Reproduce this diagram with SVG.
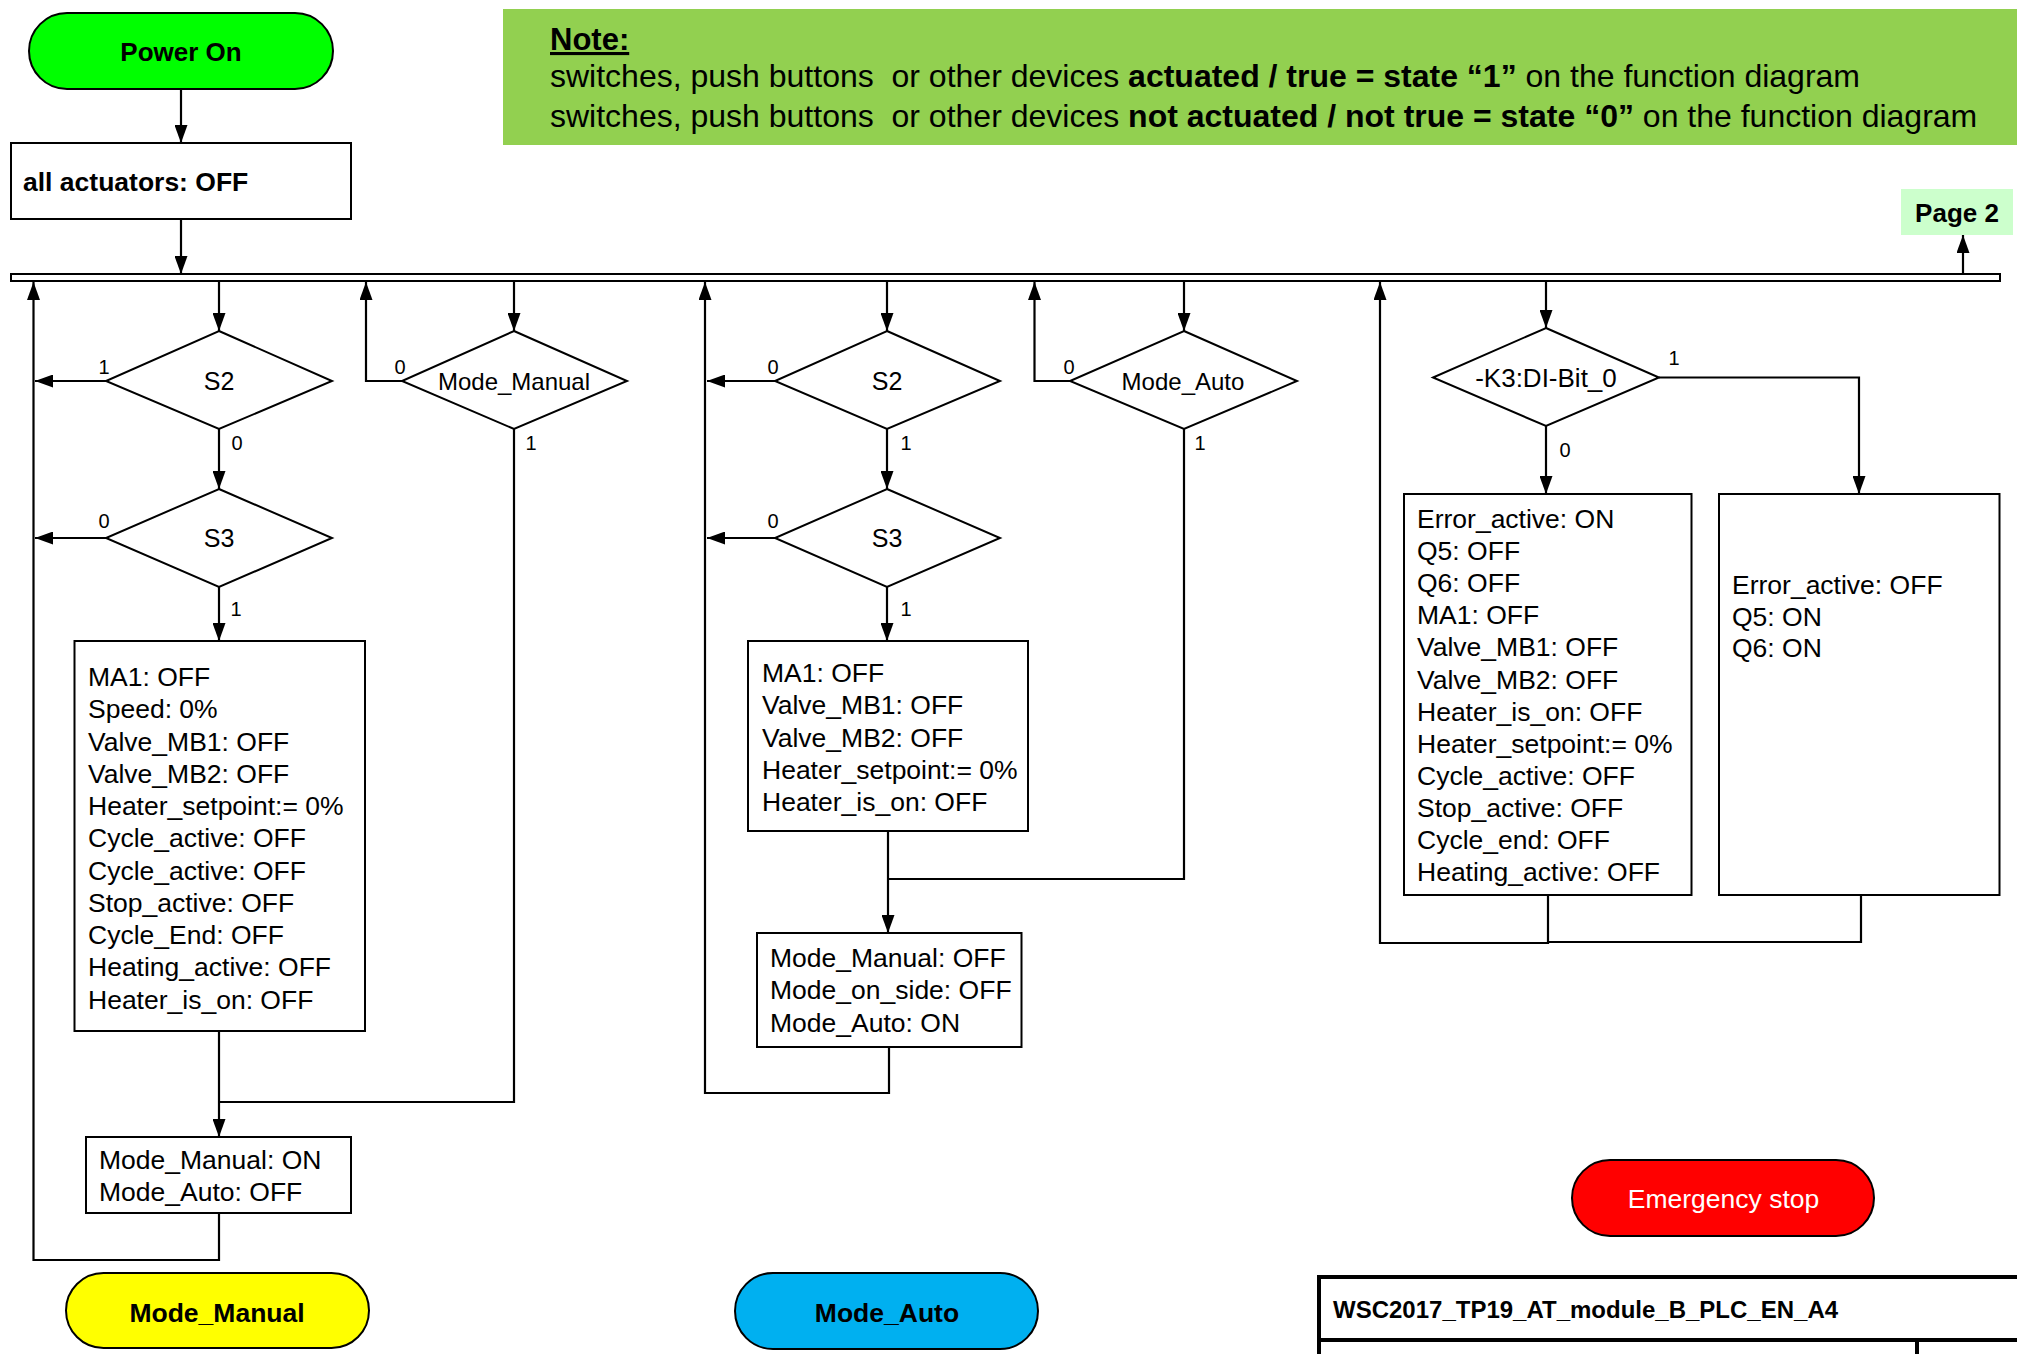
<svg xmlns="http://www.w3.org/2000/svg" width="2017" height="1354" viewBox="0 0 2017 1354">
<style>
text{font-family:"Liberation Sans",Arial,sans-serif;fill:#000}
.box{fill:#fff;stroke:#000;stroke-width:2}
.dia{fill:#fff;stroke:#000;stroke-width:2}
.term{stroke:#000;stroke-width:2}
.t{font-size:26.5px}
.b{font-weight:bold}
.d{font-size:24px;text-anchor:middle}
.dl{font-size:25px;text-anchor:middle}
.s{font-size:20px;text-anchor:middle}
.c{fill:none;stroke:#000;stroke-width:2.2}
.a{marker-end:url(#ah)}
</style>
<defs>
<marker id="ah" markerUnits="userSpaceOnUse" markerWidth="18" markerHeight="13" refX="18" refY="6.5" orient="auto">
<path d="M0,0 L18,6.5 L0,13 z" fill="#000"/>
</marker>
</defs>

<g id="note">
<rect x="503" y="9" width="1520" height="136" fill="#92D050"/>
<text x="550" y="50" font-size="31" font-weight="bold" text-decoration="underline">Note:</text>
<text x="550" y="87" font-size="32" xml:space="preserve">switches, push buttons  or other devices <tspan font-weight="bold">actuated / true = state “1”</tspan> on the function diagram</text>
<text x="550" y="127" font-size="32" xml:space="preserve">switches, push buttons  or other devices <tspan font-weight="bold">not actuated / not true = state “0”</tspan> on the function diagram</text>
</g>

<g id="power-on">
<rect class="term" x="29" y="13" width="304" height="76" rx="38" fill="#00FF00"/>
<text x="181" y="61" font-size="26" font-weight="bold" text-anchor="middle">Power On</text>
</g>

<g id="all-actuators">
<rect class="box" x="11" y="143" width="340" height="76"/>
<text class="t b" x="23" y="191">all actuators: OFF</text>
</g>

<g id="bus">
<rect x="11" y="274" width="1989" height="7" fill="#fff" stroke="#000" stroke-width="2"/>
</g>

<g id="page2">
<rect x="1901" y="189" width="112" height="46" fill="#CCFFCC"/>
<text x="1957" y="222" font-size="26" font-weight="bold" text-anchor="middle">Page 2</text>
</g>

<g id="s2-left">
<polygon class="dia" points="219,331 332,381 219,429 106,381"/>
<text class="dl" x="219" y="390">S2</text>
</g>
<g id="s3-left">
<polygon class="dia" points="219,489 332,538 219,587 106,538"/>
<text class="dl" x="219" y="547">S3</text>
</g>
<g id="mode-manual-dec">
<polygon class="dia" points="514,331 627,381 514,429 402,381"/>
<text class="d" x="514" y="390">Mode_Manual</text>
</g>

<g id="box-left1">
<rect class="box" x="74.5" y="641" width="290.5" height="390"/>
<text class="t" x="88" y="686">MA1: OFF</text>
<text class="t" x="88" y="718.3">Speed: 0%</text>
<text class="t" x="88" y="750.5">Valve_MB1: OFF</text>
<text class="t" x="88" y="782.8">Valve_MB2: OFF</text>
<text class="t" x="88" y="815">Heater_setpoint:= 0%</text>
<text class="t" x="88" y="847.3">Cycle_active: OFF</text>
<text class="t" x="88" y="879.5">Cycle_active: OFF</text>
<text class="t" x="88" y="911.8">Stop_active: OFF</text>
<text class="t" x="88" y="944">Cycle_End: OFF</text>
<text class="t" x="88" y="976.3">Heating_active: OFF</text>
<text class="t" x="88" y="1008.5">Heater_is_on: OFF</text>
</g>

<g id="box-left2">
<rect class="box" x="86" y="1137" width="265" height="76"/>
<text class="t" x="99" y="1169">Mode_Manual: ON</text>
<text class="t" x="99" y="1200.5">Mode_Auto: OFF</text>
</g>

<g id="mode-manual-term">
<rect class="term" x="66" y="1273" width="303" height="75" rx="37.5" fill="#FFFF00"/>
<text x="217" y="1322" font-size="26.5" font-weight="bold" text-anchor="middle">Mode_Manual</text>
</g>

<g id="s2-mid">
<polygon class="dia" points="887,331 1000,381 887,429 775,381"/>
<text class="dl" x="887" y="390">S2</text>
</g>
<g id="s3-mid">
<polygon class="dia" points="887,489 1000,538 887,587 775,538"/>
<text class="dl" x="887" y="547">S3</text>
</g>
<g id="mode-auto-dec">
<polygon class="dia" points="1184,331 1297,381 1184,429 1070,381"/>
<text class="d" x="1183" y="390">Mode_Auto</text>
</g>

<g id="box-mid1">
<rect class="box" x="748" y="641" width="280" height="190"/>
<text class="t" x="762" y="682">MA1: OFF</text>
<text class="t" x="762" y="714">Valve_MB1: OFF</text>
<text class="t" x="762" y="746.5">Valve_MB2: OFF</text>
<text class="t" x="762" y="778.5">Heater_setpoint:= 0%</text>
<text class="t" x="762" y="810.5">Heater_is_on: OFF</text>
</g>

<g id="box-mid2">
<rect class="box" x="757" y="933" width="264.5" height="114"/>
<text class="t" x="770" y="967">Mode_Manual: OFF</text>
<text class="t" x="770" y="999">Mode_on_side: OFF</text>
<text class="t" x="770" y="1031.5">Mode_Auto: ON</text>
</g>

<g id="mode-auto-term">
<rect class="term" x="735" y="1273" width="303" height="76" rx="38" fill="#00B0F0"/>
<text x="887" y="1322" font-size="26.5" font-weight="bold" text-anchor="middle">Mode_Auto</text>
</g>

<g id="k3-dec">
<polygon class="dia" points="1546,328 1659,377.5 1546,426 1433,377.5"/>
<text x="1546" y="387" font-size="26" text-anchor="middle">-K3:DI-Bit_0</text>
</g>

<g id="box-r1">
<rect class="box" x="1404" y="494" width="287.5" height="401"/>
<text class="t" x="1417" y="528">Error_active: ON</text>
<text class="t" x="1417" y="560.1">Q5: OFF</text>
<text class="t" x="1417" y="592.2">Q6: OFF</text>
<text class="t" x="1417" y="624.3">MA1: OFF</text>
<text class="t" x="1417" y="656.4">Valve_MB1: OFF</text>
<text class="t" x="1417" y="688.5">Valve_MB2: OFF</text>
<text class="t" x="1417" y="720.6">Heater_is_on: OFF</text>
<text class="t" x="1417" y="752.7">Heater_setpoint:= 0%</text>
<text class="t" x="1417" y="784.8">Cycle_active: OFF</text>
<text class="t" x="1417" y="816.9">Stop_active: OFF</text>
<text class="t" x="1417" y="849">Cycle_end: OFF</text>
<text class="t" x="1417" y="881.1">Heating_active: OFF</text>
</g>

<g id="box-r2">
<rect class="box" x="1719" y="494" width="280.5" height="401"/>
<text class="t" x="1732" y="593.5">Error_active: OFF</text>
<text class="t" x="1732" y="625.5">Q5: ON</text>
<text class="t" x="1732" y="657">Q6: ON</text>
</g>

<g id="emergency-stop">
<rect class="term" x="1572" y="1160" width="302" height="76" rx="38" fill="#FF0000"/>
<text x="1723.5" y="1208" font-size="26.5" text-anchor="middle" style="fill:#fff">Emergency stop</text>
</g>

<g id="title-block">
<path d="M1319,1356 V1277 H2020 M1319,1340 H2020 M1917,1340 V1356" fill="none" stroke="#000" stroke-width="4"/>
<text x="1333" y="1318" font-size="24" font-weight="bold">WSC2017_TP19_AT_module_B_PLC_EN_A4</text>
</g>

<g id="connectors">
<path class="c a" d="M181,89 V143"/>
<path class="c a" d="M181,219 V274"/>
<path class="c a" d="M1963,274 V235"/>
<path class="c a" d="M219,282 V331"/>
<path class="c a" d="M106,381 H35"/>
<path class="c a" d="M219,429 V489"/>
<path class="c a" d="M106,538 H35"/>
<path class="c a" d="M219,587 V641"/>
<path class="c a" d="M514,282 V331"/>
<path class="c a" d="M402,381 H366 V282"/>
<path class="c a" d="M219,1031 V1137"/>
<path class="c" d="M514,429 V1102 H219"/>
<path class="c a" d="M219,1213 V1260 H33.5 V282"/>
<path class="c a" d="M887,282 V331"/>
<path class="c a" d="M775,381 H707"/>
<path class="c a" d="M887,429 V489"/>
<path class="c a" d="M775,538 H707"/>
<path class="c a" d="M887,587 V641"/>
<path class="c a" d="M1184,282 V331"/>
<path class="c a" d="M1070,381 H1034.5 V282"/>
<path class="c a" d="M888,831 V933"/>
<path class="c" d="M1184,429 V879 H888"/>
<path class="c a" d="M889,1047 V1093 H705 V282"/>
<path class="c a" d="M1546,282 V328"/>
<path class="c a" d="M1659,377.5 H1859 V494"/>
<path class="c a" d="M1546,426 V494"/>
<path class="c a" d="M1548,895 V943 H1380 V282"/>
<path class="c" d="M1861,895 V942 H1548"/>
</g>

<g id="branch-labels">
<text class="s" x="104" y="374">1</text>
<text class="s" x="237" y="450">0</text>
<text class="s" x="104" y="528">0</text>
<text class="s" x="236" y="616">1</text>
<text class="s" x="400" y="374">0</text>
<text class="s" x="531" y="450">1</text>
<text class="s" x="773" y="374">0</text>
<text class="s" x="906" y="450">1</text>
<text class="s" x="773" y="528">0</text>
<text class="s" x="906" y="616">1</text>
<text class="s" x="1069" y="374">0</text>
<text class="s" x="1200" y="450">1</text>
<text class="s" x="1674" y="365">1</text>
<text class="s" x="1565" y="457">0</text>
</g>
</svg>
